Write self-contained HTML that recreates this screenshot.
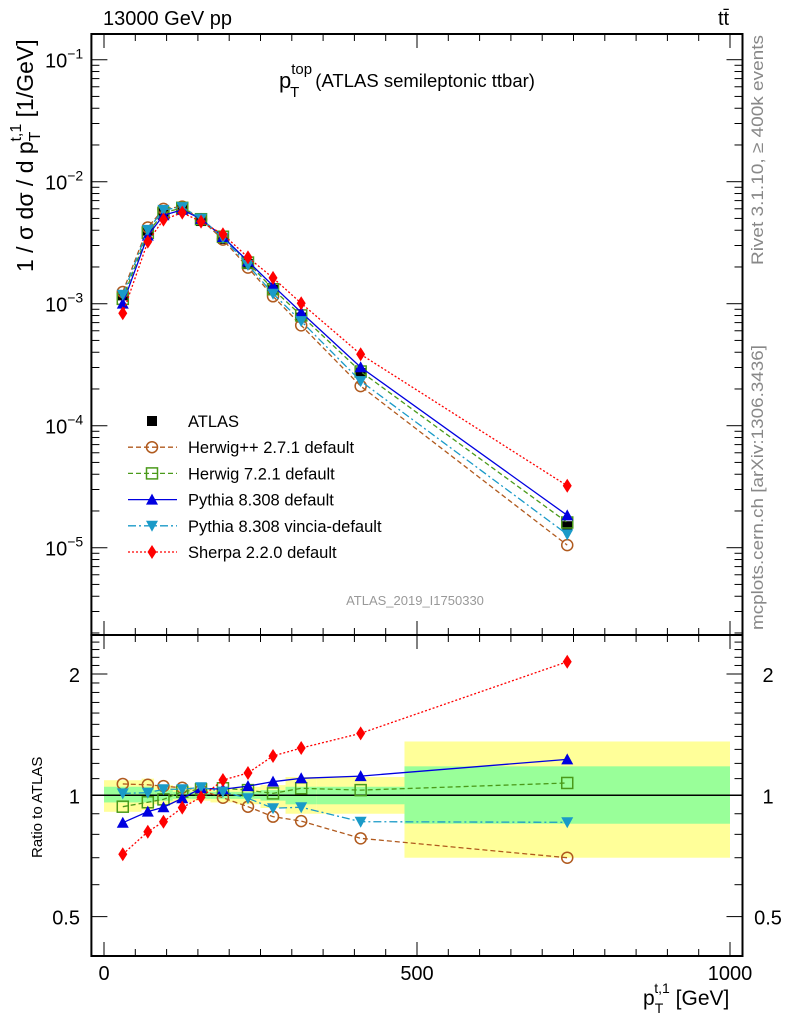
<!DOCTYPE html>
<html><head><meta charset="utf-8"><style>
body{margin:0;background:#fff}
svg{display:block;font-family:"Liberation Sans",Arial,sans-serif}
</style></head><body>
<svg id="chart" width="786" height="1024" viewBox="0 0 786 1024" xmlns="http://www.w3.org/2000/svg">
<text x="103" y="25" font-size="20">13000 GeV pp</text>
<text x="718" y="25" font-size="20">tt̄</text>
<text x="279" y="88" font-size="22">p<tspan font-size="15" dy="-14">top</tspan><tspan font-size="15" dx="-22" dy="23">T</tspan><tspan font-size="18.5" dx="16" dy="-10">(ATLAS semileptonic ttbar)</tspan></text>
<text transform="translate(763,265) rotate(-90)" font-size="17" fill="#888" textLength="230" lengthAdjust="spacingAndGlyphs">Rivet 3.1.10, ≥ 400k events</text>
<text transform="translate(763,630) rotate(-90)" font-size="17" fill="#888" textLength="285" lengthAdjust="spacingAndGlyphs">mcplots.cern.ch [arXiv:1306.3436]</text>
<text x="415" y="605" font-size="13" fill="#999" text-anchor="middle">ATLAS_2019_I1750330</text>
<text transform="translate(33,272) rotate(-90)" font-size="23">1 / σ dσ / d p<tspan font-size="16" dy="7">T</tspan><tspan font-size="16" dx="-10" dy="-19">t,1</tspan><tspan dy="12"> [1/GeV]</tspan></text>
<text transform="translate(42,858) rotate(-90)" font-size="15">Ratio to ATLAS</text>
<text x="643" y="1005" font-size="21">p<tspan font-size="14" dy="8">T</tspan><tspan font-size="14" dx="-9" dy="-20">t,1</tspan><tspan dy="12"> [GeV]</tspan></text>
<g id="main"></g>
<g id="ratio"></g>
<g id="legend"></g>
</svg>
<script>
const xCenters=[30,70,95,125,155,190,230,270,315,410,740];
const binEdges=[0,60,80,110,140,170,210,250,290,340,480,1000];
const atlasVals=[1.17e-3,3.97e-3,5.68e-3,5.98e-3,4.76e-3,3.4e-3,2.11e-3,1.3e-3,7.7e-4,2.7e-4,1.5e-5];
const herwigppRatio=[1.067,1.062,1.054,1.044,1.03,0.986,0.937,0.885,0.863,0.782,0.70];
const herwig7Ratio=[0.937,0.961,0.977,1.021,1.035,1.041,1.03,1.011,1.041,1.03,1.073];
const pythiaRatio=[0.855,0.911,0.934,0.983,1.041,1.035,1.054,1.081,1.102,1.116,1.228];
const vinciaRatio=[1.011,1.015,1.035,1.035,1.047,1.021,0.983,0.929,0.934,0.86,0.857];
const sherpaRatio=[0.714,0.812,0.86,0.932,0.989,1.091,1.136,1.252,1.31,1.425,2.145];
const yellowUp=[1.09,1.10,1.06,1.05,1.04,1.04,1.05,1.06,1.11,1.11,1.36];
const yellowDn=[0.91,0.92,0.95,0.96,0.97,0.96,0.95,0.93,0.90,0.90,0.70];
const greenUp=[1.05,1.05,1.03,1.02,1.02,1.02,1.02,1.03,1.05,1.05,1.18];
const greenDn=[0.96,0.96,0.97,0.98,0.98,0.98,0.98,0.97,0.95,0.95,0.85];
const mainTickLabels=["-1","-2","-3","-4","-5"];
const ratioTickLabels=["2","1","0.5"];
const xTickLabels=["0","500","1000"];

const NS="http://www.w3.org/2000/svg";
const L=91.4,R=742.5,MT=34,MB=635,RT=635,RB=956;
const X=v=>104+v*0.626;
const YM=v=>181.7-122*(Math.log10(v)+2);
const YR=v=>795.3-121.3*Math.log2(v);
function el(tag,attrs,parent){const e=document.createElementNS(NS,tag);for(const k in attrs)e.setAttribute(k,attrs[k]);parent.appendChild(e);return e;}
const main=document.getElementById('main'),ratio=document.getElementById('ratio'),leg=document.getElementById('legend');

const series=[
 {name:"Herwig++ 2.7.1 default",r:herwigppRatio,c:"#b05a1e",dash:"5,3",m:"circle",id:"herwigpp"},
 {name:"Herwig 7.2.1 default",r:herwig7Ratio,c:"#4a9a1a",dash:"5,3",m:"square",id:"herwig7"},
 {name:"Pythia 8.308 default",r:pythiaRatio,c:"#0000e0",dash:"",m:"up",id:"pythia"},
 {name:"Pythia 8.308 vincia-default",r:vinciaRatio,c:"#1a9ac8",dash:"8,3,2,3",m:"down",id:"vincia"},
 {name:"Sherpa 2.2.0 default",r:sherpaRatio,c:"#ff0000",dash:"2,2",m:"diamond",id:"sherpa"}];

for(let i=0;i<xCenters.length;i++){
 const x0=X(binEdges[i]),x1=X(binEdges[i+1]);
 const b=el('rect',{x:x0,y:YR(yellowUp[i]),width:x1-x0,height:YR(yellowDn[i])-YR(yellowUp[i]),fill:"#ffff99"},ratio);
 
 
 const g=el('rect',{x:x0,y:YR(greenUp[i]),width:x1-x0,height:YR(greenDn[i])-YR(greenUp[i]),fill:"#99ff99"},ratio);
 
 
}
el('line',{x1:L,x2:R,y1:YR(1),y2:YR(1),stroke:"#000","stroke-width":1.5},ratio);

function marker(m,x,y,c,parent){
 let e;
 if(m==="circle")e=el('circle',{cx:x,cy:y,r:5.5,fill:"none",stroke:c,"stroke-width":1.5},parent);
 else if(m==="square")e=el('rect',{x:x-5.5,y:y-5.5,width:11,height:11,fill:"none",stroke:c,"stroke-width":1.5},parent);
 else if(m==="up")e=el('polygon',{points:`${x-6},${y+5} ${x+6},${y+5} ${x},${y-6}`,fill:c},parent);
 else if(m==="down")e=el('polygon',{points:`${x-6},${y-5} ${x+6},${y-5} ${x},${y+6}`,fill:c},parent);
 else if(m==="diamond")e=el('polygon',{points:`${x},${y-7} ${x+4.5},${y} ${x},${y+7} ${x-4.5},${y}`,fill:c},parent);
 else e=el('rect',{x:x-5,y:y-5,width:10,height:10,fill:c},parent);
 return e;
}
atlasVals.forEach((v,i)=>{const p=marker("sq",X(xCenters[i]),YM(v),"#000",main);
 
 });
series.forEach(s=>{
 const mp=xCenters.map((x,i)=>`${X(x)},${YM(atlasVals[i]*s.r[i])}`).join(' ');
 const l1=el('polyline',{points:mp,fill:"none",stroke:s.c,"stroke-width":1.3,"stroke-dasharray":s.dash},main);
 
 
 const rp=xCenters.map((x,i)=>`${X(x)},${YR(s.r[i])}`).join(' ');
 const l2=el('polyline',{points:rp,fill:"none",stroke:s.c,"stroke-width":1.3,"stroke-dasharray":s.dash},ratio);
 
 
 xCenters.forEach((x,i)=>{
  const a=marker(s.m,X(x),YM(atlasVals[i]*s.r[i]),s.c,main);
  
  
  const b=marker(s.m,X(x),YR(s.r[i]),s.c,ratio);
  
  
 });
});
[[MT,MB],[RT,RB]].forEach(([t,b])=>{const f=el('rect',{x:L,y:t,width:R-L,height:b-t,fill:"none",stroke:"#000","stroke-width":2},main);
 
 });
for(let v=0;v<=1000;v+=50){
 const x=X(v),big=v%500===0,len=big?14:7;
 [[MT,1],[MB,-1],[RT,1],[RB,-1]].forEach(([y,d])=>el('line',{x1:x,x2:x,y1:y,y2:y+d*len,stroke:"#000","stroke-width":1},main));
}
xTickLabels.forEach((t,i)=>{const e=el('text',{x:X(+t),y:980,"font-size":20,"text-anchor":"middle"},ratio);e.textContent=t;
 
 });
for(let d=-6;d<=-1;d++){for(let k=1;k<10;k++){
 const v=k*Math.pow(10,d),y=YM(v);if(y<MT||y>MB)continue;
 const len=k===1?16:8;
 el('line',{x1:L,x2:L+len,y1:y,y2:y,stroke:"#000"},main);el('line',{x1:R,x2:R-len,y1:y,y2:y,stroke:"#000"},main);
}}
mainTickLabels.forEach(t=>{const y=YM(Math.pow(10,+t));
 const e=el('text',{x:45,y:y+8,"font-size":20},main);e.innerHTML=`10<tspan font-size="14" dy="-9">−${t.slice(1)}</tspan>`;
 
 });
for(let k=4;k<=25;k++){const v=k/10,y=YR(v);if(y<RT||y>RB)continue;
 const len=(k===5||k===10||k===20)?16:8;
 el('line',{x1:L,x2:L+len,y1:y,y2:y,stroke:"#000"},ratio);el('line',{x1:R,x2:R-len,y1:y,y2:y,stroke:"#000"},ratio);}
ratioTickLabels.forEach(t=>{const y=YR(+t);
 const a=el('text',{x:80,y:y+8,"font-size":20,"text-anchor":"end"},ratio);a.textContent=t;
 
 
 const b=el('text',{x:768,y:y+8,"font-size":20,"text-anchor":"middle"},ratio);b.textContent=t;
 
 });
const rows=[{name:"ATLAS",m:"sq",c:"#000",dash:null}].concat(series);
rows.forEach((s,i)=>{const y=421+i*26.2;
 const g=el('g',{},leg);
 
 
 if(s.dash!==null)el('line',{x1:128,x2:177,y1:y,y2:y,stroke:s.c,"stroke-width":1.3,"stroke-dasharray":s.dash},g);
 marker(s.m,152,y,s.c,g);
 const t=el('text',{x:188,y:y+6,"font-size":16.5},g);t.textContent=s.name;});
</script>
</body></html>
